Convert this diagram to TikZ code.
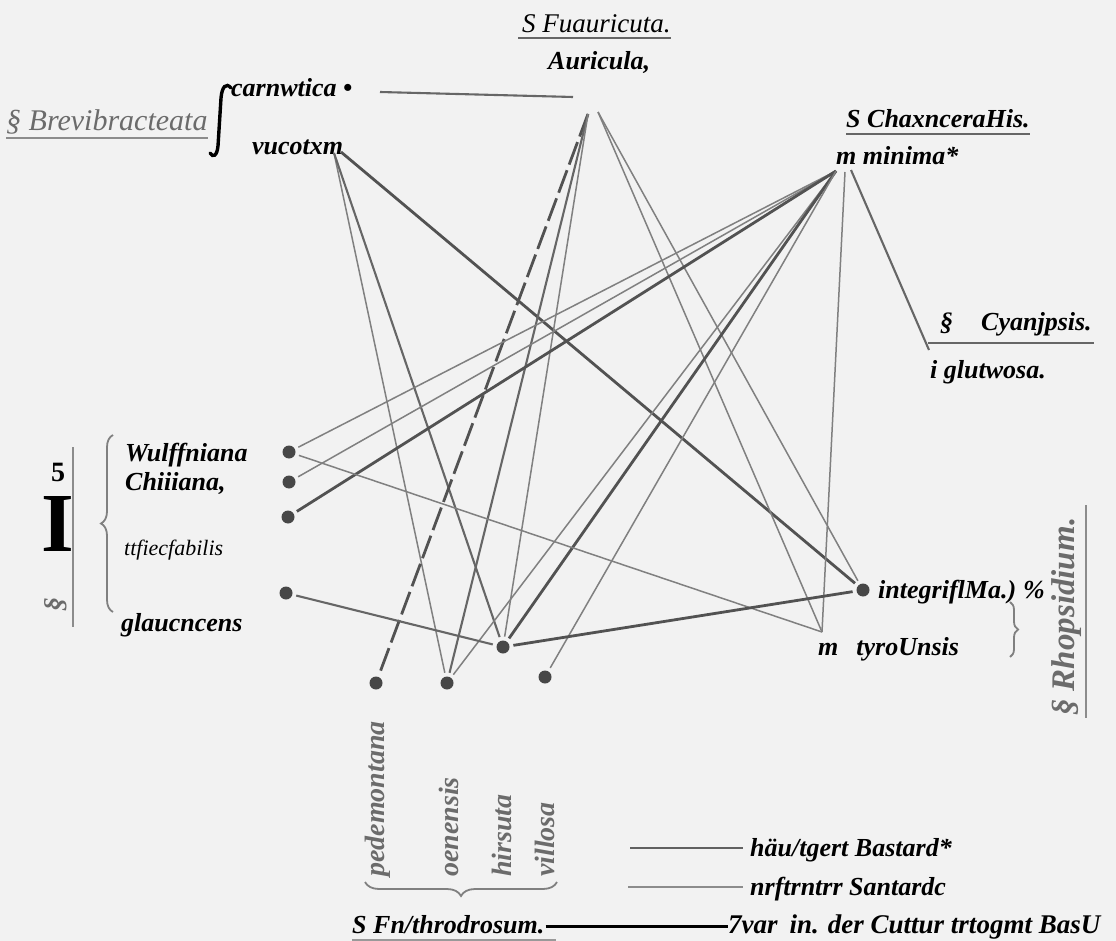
\documentclass[tikz,border=0pt]{standalone}
\usepackage{fontspec}
\setmainfont{Liberation Serif}
\usetikzlibrary{decorations.pathreplacing}
\begin{document}
\begin{tikzpicture}[x=1pt,y=-1pt,
  lbl/.style={anchor=base west,inner sep=0pt,font=\fontsize{26}{28}\selectfont\bfseries\itshape},
  scan/.style={inner sep=0pt,text=black!58,font=\fontsize{28}{30}\selectfont\bfseries\itshape},
  dot/.style={circle,fill=black!72,inner sep=0pt,minimum size=13pt,outer sep=4pt},
  thinln/.style={draw=black!50,line width=1.5pt},
  medln/.style={draw=black!60,line width=2.1pt},
  thkln/.style={draw=black!68,line width=2.8pt},
  dashln/.style={thkln,dash pattern=on 24pt off 6pt},
  uline/.style={draw=black!60,line width=2.2pt},
  brc/.style={draw=black!50,line width=1.8pt,decorate,decoration={brace,amplitude=#1}},
]
\fill[black!5] (0,0) rectangle (1116,941);
\useasboundingbox (0,0) rectangle (1116,941);

% ---- top labels
\node[lbl,font=\fontsize{27}{29}\selectfont\itshape] (secF) at (522,33) {S Fuauricuta.};
\draw[uline] ([xshift=-4pt,yshift=-5pt]secF.base west) -- ([yshift=-5pt]secF.base east);
\node[lbl] (aur) at (548,70) {Auricula,};
\node[lbl] (car) at (231,97) {carnwtica •};
\node[lbl] (vis) at (252,155) {vucotxm};
\node[scan,anchor=base west,font=\fontsize{30}{32}\selectfont\itshape] (brev) at (6,131) {§ Brevibracteata};
\draw[uline,draw=black!45] ([yshift=-7pt]brev.base west) -- ([yshift=-7pt]brev.base east);
\draw[line width=3.4pt,line cap=round] (231,88) .. controls (226,82) and (222,87) .. (221,98) -- (218,146) .. controls (217,156) and (213,158) .. (210,153);
\node[lbl] (chax) at (846,128) {S ChaxnceraHis.};
\draw[uline] ([yshift=-6pt]chax.base west) -- ([yshift=-6pt]chax.base east);
\node[lbl] (min) at (836,165) {m minima*};
\node[lbl] (cyan) at (940,330) {§\hspace{28pt}Cyanjpsis.};
\draw[uline] ([xshift=-12pt,yshift=-13pt]cyan.base west) -- ([xshift=2pt,yshift=-13pt]cyan.base east);
\node[lbl] (glut) at (930,378) {i glutwosa.};

% ---- left group
\node[lbl] (wulf) at (125,461) {Wulffniana};
\node[lbl] (clus) at (125,490) {Chiiiana,};
\node[lbl,font=\fontsize{22}{24}\selectfont\itshape] (spec) at (124,555) {ttfiecfabilis};
\node[lbl] (glauc) at (121,631) {glaucncens};
\draw[brc=12pt] (113,612) -- (113,435);
\draw[draw=black!45,line width=2pt] (73,447) -- (73,627);
\node[scan,rotate=90] (secL) at (56,604) {§};
\node[inner sep=0pt,font=\fontsize{28}{30}\selectfont\bfseries] (five) at (58,472) {5};
\node[inner sep=0pt,font=\fontsize{84}{84}\selectfont\bfseries] (bigI) at (58,524) {I};

% ---- right labels
\node[lbl] (integ) at (878,598) {integriflMa.)\hspace{7pt}\%};
\node[lbl] (tyro) at (818,655) {m\hspace{18pt}tyroUnsis};
\draw[brc=8pt] (1010,602) -- (1010,657);
\node[scan,rotate=90,anchor=west,font=\fontsize{33}{35}\selectfont\bfseries\itshape] (rhop) at (1067,716) {§ Rhopsidium.};
\draw[draw=black!45,line width=2pt] (1086,505) -- (1086,718);

% ---- bottom labels
\node[scan,rotate=90,anchor=west] (pedl) at (378,877) {pedemontana};
\node[scan,rotate=90,anchor=west] (oenl) at (449,877) {oenensis};
\node[scan,rotate=90,anchor=west] (hirl) at (502,877) {hirsuta};
\node[scan,rotate=90,anchor=west] (vill) at (545,877) {villosa};
\draw[brc=14pt] (557,882) -- (365,882);

% ---- legend
\coordinate (lg1a) at (630,848); \coordinate (lg1b) at (743,848);
\coordinate (lg2a) at (628,887); \coordinate (lg2b) at (743,887);
\draw[draw=black!62,line width=2.5pt] (lg1a) -- (lg1b);
\draw[draw=black!45,line width=1.7pt] (lg2a) -- (lg2b);
\node[lbl] (leg1) at (750,856) {häu/tgert Bastard*};
\node[lbl] (leg2) at (750,895) {nrftrntrr Santardc};
\node[lbl] (sfn) at (352,933) {S Fn/throdrosum.};
\node[lbl,font=\fontsize{27}{29}\selectfont\bfseries\itshape] (var) at (728,933) {7var\hspace{12pt}in. der Cuttur trtogmt BasU};
\draw[black,line width=3pt] ([xshift=1pt,yshift=7pt]sfn.base east) -- ([yshift=7pt]var.base west);
\draw[draw=black!40,line width=2.5pt] (352,940) -- (556,940);

% ---- dots
\node[dot] (W) at (289,452) {};
\node[dot] (Cl) at (289,482) {};
\node[dot] (Sp) at (288,517) {};
\node[dot] (Gl) at (286,593) {};
\node[dot] (P) at (376,683) {};
\node[dot] (O) at (447,683) {};
\node[dot] (H) at (503,647) {};
\node[dot] (Vi) at (545,677) {};
\node[dot] (I) at (863,590) {};

% ---- hub points
\coordinate (Aa) at (588,114); \coordinate (Ab) at (598,112);
\coordinate (Ma) at (836,171); \coordinate (Mb) at (845,172); \coordinate (Mc) at (851,170);
\coordinate (Va) at (334,153); \coordinate (Vb) at (341,152);
\coordinate (G) at (929,350);
\coordinate (T) at (822,632);
\coordinate (cL) at (380,92); \coordinate (cR) at (573,97);

% ---- connectors
\draw[medln] (cL) -- (cR);
\draw[thinln] (Va) -- (O);
\draw[medln] (Va) -- (H);
\draw[thkln] (Vb) -- (I);
\draw[dashln] (Aa) -- (P);
\draw[medln] (Aa) -- (O);
\draw[thinln] (Aa) -- (H);
\draw[thinln] (Ab) -- (T);
\draw[thinln] (Ab) -- (I);
\draw[thinln] (Ma) -- (W);
\draw[thinln] (Ma) -- (Cl);
\draw[thkln] (Ma) -- (Sp);
\draw[thinln] (Ma) -- (O);
\draw[thkln] (Ma) -- (H);
\draw[thinln] (Ma) -- (Vi);
\draw[thinln] (Mb) -- (T);
\draw[medln] (Mc) -- (G);
\draw[thinln] (W) -- (T);
\draw[medln] (Gl) -- (H);
\draw[thkln] (H) -- (I);
\end{tikzpicture}
\end{document}
